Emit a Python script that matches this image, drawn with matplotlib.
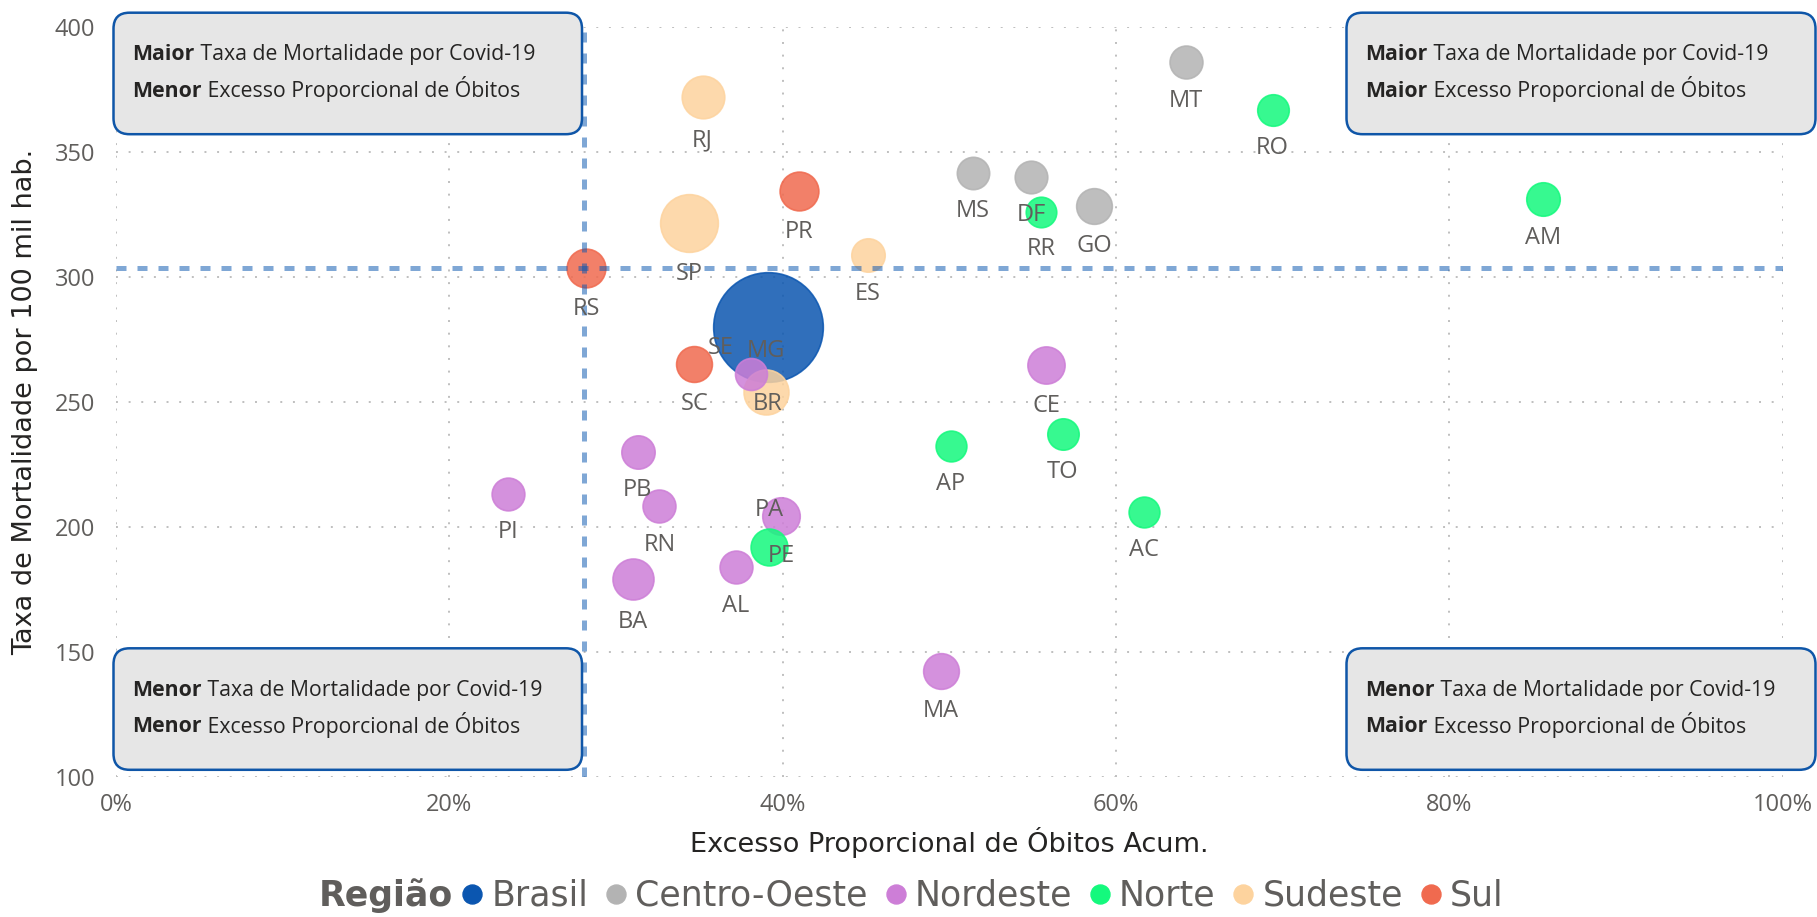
import numpy as np
import matplotlib.pyplot as plt
from matplotlib.lines import Line2D
from matplotlib.patches import FancyBboxPatch

plt.rcParams['font.family'] = ['Open Sans', 'DejaVu Sans']
plt.rcParams['lines.scale_dashes'] = False

# dados por UF
ufs = ['BR', 'MT', 'RO', 'AM', 'RJ', 'PR', 'MS', 'DF', 'RR', 'GO', 'SP', 'ES', 'RS', 'MG',
       'SE', 'SC', 'CE', 'AP', 'TO', 'AC', 'PI', 'PB', 'RN', 'PE', 'PA', 'BA', 'AL', 'MA']
regioes = ['Brasil', 'Centro-Oeste', 'Norte', 'Norte', 'Sudeste', 'Sul', 'Centro-Oeste',
           'Centro-Oeste', 'Norte', 'Centro-Oeste', 'Sudeste', 'Sudeste', 'Sul', 'Sudeste',
           'Nordeste', 'Sul', 'Nordeste', 'Norte', 'Norte', 'Norte', 'Nordeste', 'Nordeste',
           'Nordeste', 'Nordeste', 'Norte', 'Nordeste', 'Nordeste', 'Nordeste']
excesso = [39.1, 64.2, 69.4, 85.6, 35.2, 41.0, 51.4, 54.9, 55.5, 58.7, 34.4, 45.1, 28.2, 39.0,
           38.1, 34.7, 55.8, 50.1, 56.8, 61.7, 23.5, 31.3, 32.6, 39.9, 39.2, 31.0, 37.2, 49.5]
taxa = [280.0, 385.8, 366.7, 331.1, 371.8, 334.3, 341.6, 339.8, 325.8, 328.2, 321.4, 308.6,
        303.5, 253.9, 261.1, 265.1, 264.7, 232.2, 236.9, 205.8, 213.2, 230.0, 208.2, 204.4,
        192.0, 179.0, 183.8, 142.3]
populacao = [211.8, 3.5, 1.8, 4.2, 17.4, 11.5, 2.8, 3.1, 0.6, 7.1, 46.3, 4.1, 11.4, 21.3,
             2.3, 7.3, 9.2, 0.9, 1.6, 0.9, 3.3, 4.0, 3.5, 9.6, 8.7, 14.9, 3.4, 7.1]

# linhas de referencia
ref_excesso = 28.1
ref_taxa = 303.6

regiao_nomes = ['Brasil', 'Centro-Oeste', 'Nordeste', 'Norte', 'Sudeste', 'Sul']
regiao_cores = ['#0B56B0', '#B3B3B3', '#CD7ED7', '#14F97D', '#FDD39E', '#F06A4F']
cor_de = dict(zip(regiao_nomes, regiao_cores))

rotulo_pos = {'MG': 'acima', 'PA': 'acima', 'SE': 'esquerda'}

W, H = 1817, 917
PX = 0.72  # pontos por pixel em dpi 100

fig = plt.figure(figsize=(W / 100, H / 100), dpi=100)
ax = fig.add_axes([116 / W, 1 - 776.7 / H, 1666.7 / W, 750 / H])

cinza = '#605E5C'
diam = np.sqrt(900 + 52.5 * np.array(populacao))  # diametro em pixels

for uf, reg, x, y, d in zip(ufs, regioes, excesso, taxa, diam):
    c = cor_de[reg]
    ax.scatter(x, y, s=(d * PX) ** 2, color=c, alpha=0.85, edgecolors=c,
               linewidths=1.2, zorder=3)
    r = d / 2
    pos = rotulo_pos.get(uf, 'abaixo')
    if pos == 'acima':
        off = (0, (r + 18) * PX)
    elif pos == 'esquerda':
        off = (-30 * PX, 26 * PX)
    else:
        off = (0, -(r + 22) * PX)
    ax.annotate(uf, (x, y), xytext=off, textcoords='offset points', ha='center',
                va='center', fontsize=17, color=cinza, zorder=5)

ax.axvline(ref_excesso, color='#0B56B0', alpha=0.52, lw=5 * PX, dashes=(10 * PX, 11 * PX), zorder=4)
ax.axhline(ref_taxa, color='#0B56B0', alpha=0.52, lw=5 * PX, dashes=(10 * PX, 11 * PX), zorder=4)

ax.set_xlim(0, 100)
ax.set_ylim(100, 400)
ax.set_xticks(np.arange(0, 101, 20))
ax.set_xticklabels([f'{v}%' for v in range(0, 101, 20)])
ax.set_yticks(np.arange(100, 401, 50))
ax.grid(True, color='#C0C0C0', lw=2 * PX, linestyle=(0, (1.4, 7.7)), zorder=0)
for s in ax.spines.values():
    s.set_visible(False)
ax.tick_params(length=0, labelsize=17, labelcolor=cinza)
ax.tick_params(axis='y', pad=15)
ax.tick_params(axis='x', pad=12)

titulo_fonte = 'DejaVu Sans'
fig.text(949 / W, 1 - 842 / H, 'Excesso Proporcional de Óbitos Acum.', ha='center', va='center',
         fontsize=19.5, color='#252423', family=titulo_fonte)
fig.text(25 / W, 1 - 401.7 / H, 'Taxa de Mortalidade por 100 mil hab.', ha='center', va='center',
         rotation=90, fontsize=19.5, color='#252423', family=titulo_fonte)

# caixas dos quadrantes, em pixels
ov = fig.add_axes([0, 0, 1, 1], zorder=10)
ov.set_xlim(0, W)
ov.set_ylim(H, 0)
ov.axis('off')
ov.patch.set_alpha(0)

caixas = [
    (113.5, 12.7, 'Maior', 'Menor'),
    (1346.5, 12.7, 'Maior', 'Maior'),
    (113.5, 648.3, 'Menor', 'Menor'),
    (1346.5, 648.3, 'Menor', 'Maior'),
]
for x0, y0, p1, p2 in caixas:
    w = 468.5 if x0 < 500 else 469
    ov.add_patch(FancyBboxPatch((x0, y0), w, 121.5, boxstyle='round,pad=0,rounding_size=16',
                                facecolor='#E6E6E6', edgecolor='#0F56A8', lw=2.5 * PX))
    for dy, palavra, resto in [(47.5, p1, ' Taxa de Mortalidade por Covid-19'),
                               (84.2, p2, ' Excesso Proporcional de Óbitos')]:
        t = ov.text(x0 + 19, y0 + dy, palavra, fontsize=15.3, fontweight='bold',
                    color='#252423', va='baseline', ha='left')
        ov.annotate(resto, xy=(1, 0), xycoords=t, va='bottom', ha='left',
                    fontsize=15.3, color='#252423')

# legenda
fig.text(319 / W, 1 - 896 / H, 'Região', fontsize=25, fontweight='bold', color=cinza,
         ha='left', va='center', family=titulo_fonte)
handles = [Line2D([], [], ls='none', marker='o', markersize=19 * PX, color=c) for c in regiao_cores]
leg = fig.legend(handles, regiao_nomes, loc='center left', bbox_to_anchor=(462 / W, 1 - 896 / H),
                 ncol=6, frameon=False, borderpad=0, borderaxespad=0, handlelength=0.6,
                 handletextpad=0.25, columnspacing=0.5,
                 prop={'family': titulo_fonte, 'size': 25})
for t in leg.get_texts():
    t.set_color(cinza)

fig.savefig('out.png', dpi=100)
